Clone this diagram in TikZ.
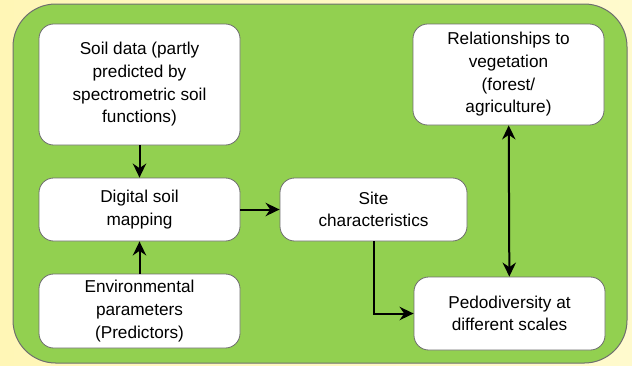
\documentclass[tikz,border=0pt]{standalone}
\usepackage{fontspec}
\setmainfont{Liberation Sans}
\usetikzlibrary{arrows.meta}

\definecolor{bgyellow}{RGB}{255,246,182}
\definecolor{bgyellowr}{RGB}{255,250,205}
\definecolor{panelgreen}{RGB}{146,208,80}
\definecolor{edgegray}{RGB}{110,110,110}

\begin{document}
\begin{tikzpicture}[x=0.75pt,y=0.75pt,yscale=-1,xscale=1,
  box/.style={draw=edgegray, line width=0.6pt, fill=white, rounded corners=11pt,
    align=center, inner sep=0pt, font=\fontsize{12.9}{17}\selectfont},
  tip/.style={Stealth[length=10.5pt,width=10pt]},
  link/.style={line width=1.5pt, -{Stealth[length=10.5pt,width=10pt]}}]
%set diagram to 632 x 365
\useasboundingbox (0,0) rectangle (632,365);

% background
\shade [left color=bgyellow, right color=bgyellowr] (0,0) rectangle (632,365);
% green panel
\draw [draw=edgegray, line width=0.75pt, fill=panelgreen, rounded corners=32pt] (13,4) rectangle (627,363);

% Text Node
\node (soil) [box, minimum width=150.75pt, minimum height=90.75pt] at (139.5,84.5)
  {Soil data (partly\\predicted by\\spectrometric soil\\functions)};
% Text Node
\node (dsm) [box, minimum width=150.75pt, minimum height=47.25pt] at (139.5,209.5)
  {Digital soil\\mapping};
% Text Node
\node (env) [box, minimum width=150.75pt, minimum height=55.5pt] at (139.5,311)
  {Environmental\\parameters\\(Predictors)};
% Text Node
\node (site) [box, minimum width=140.25pt, minimum height=47.25pt] at (373.5,209.5)
  {Site\\characteristics};
% Text Node
\node (rel) [box, minimum width=143.25pt, minimum height=75.75pt] at (508.5,74.5)
  {Relationships to\\vegetation\\(forest/\\agriculture)};
% Text Node
\node (pedo) [box, minimum width=143.25pt, minimum height=54.75pt] at (509.5,313.5)
  {Pedodiversity at\\different scales};

%Straight Lines
\draw [link] (soil) -- (dsm);
\draw [link] (env) -- (dsm);
\draw [link] (dsm) -- (site);
\draw [link] (site.south) |- (pedo.west);
\draw [line width=1.5pt, {Stealth[length=10.5pt,width=10pt]}-{Stealth[length=10.5pt,width=10pt]}] (rel) -- (pedo);

\end{tikzpicture}
\end{document}
